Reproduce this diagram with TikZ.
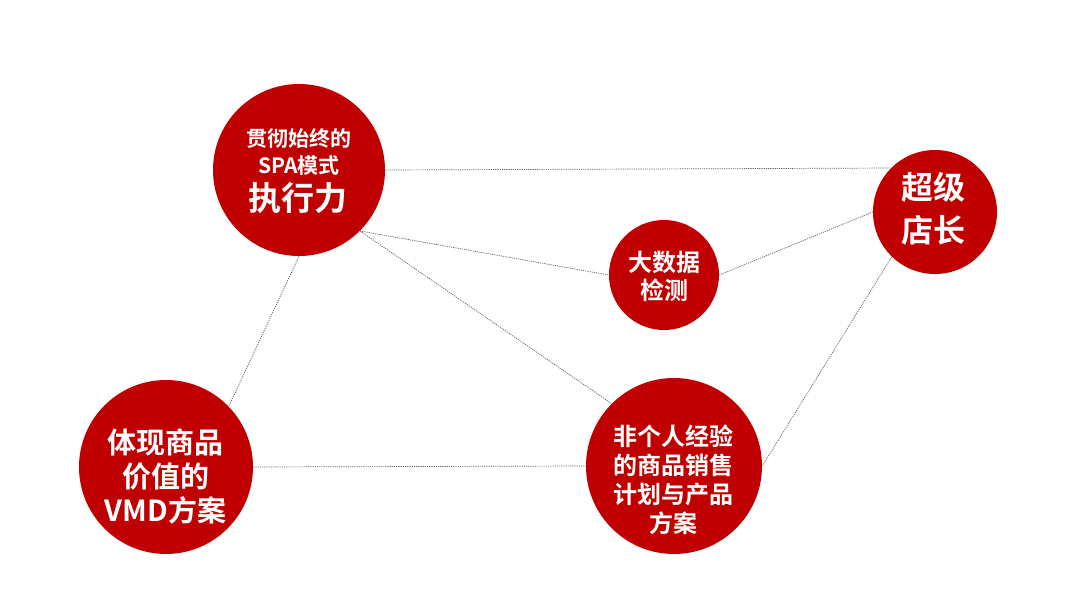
\documentclass[tikz,border=0pt]{standalone}
\usepackage{fontspec}
\newfontfamily\cjk{Noto Sans CJK SC}[UprightFont={* Bold}]
\definecolor{myred}{RGB}{192,0,0}
\definecolor{linkgray}{RGB}{100,100,100}
\begin{document}
\begin{tikzpicture}[x=1pt,y=-1pt,
  ball/.style={circle,fill=myred,draw=none,inner sep=0pt},
  link/.style={draw=linkgray,line width=0.7pt,dash pattern=on 1.2pt off 1pt},
  lbl/.style={text=white,align=center,inner sep=0pt}]
\useasboundingbox (0,0) rectangle (1080,589);
\fill[white] (0,0) rectangle (1080,589);
\node[ball,minimum size=172pt] (exec) at (299,170) {};
\node[ball,minimum size=124pt] (boss) at (935,212) {};
\node[ball,minimum size=110pt] (data) at (664,275) {};
\node[ball,minimum size=174pt] (vmd) at (166,467) {};
\node[ball,minimum size=176pt] (plan) at (674,466) {};
\draw[link] (exec.0) -- (boss.135);
\draw[link] (exec.-45) -- (data.180);
\draw[link] (exec.-45) -- (plan.135);
\draw[link] (exec.-90) -- (vmd.44);
\draw[link] (data.0) -- (boss.180);
\draw[link] (boss.-134) -- (plan.0);
\draw[link] (vmd.0) -- (plan.180);
\node[lbl,font=\cjk\fontsize{21}{27}\selectfont] (t1a) at (299,151.5) {贯彻始终的\\SPA模式};
\node[lbl,font=\cjk\fontsize{33}{33}\selectfont] (t1b) at (298,198) {执行力};
\node[lbl,font=\cjk\fontsize{32}{43}\selectfont] (t2) at (933,208.5) {超级\\店长};
\node[lbl,font=\cjk\fontsize{24}{28}\selectfont] (t3) at (664,276) {大数据\\检测};
\node[lbl,font=\cjk\fontsize{29}{34}\selectfont] (t4) at (165.5,476) {体现商品\\价值的\\VMD方案};
\node[lbl,font=\cjk\fontsize{24}{29}\selectfont] (t5) at (673,480) {非个人经验\\的商品销售\\计划与产品\\方案};
\end{tikzpicture}
\end{document}
